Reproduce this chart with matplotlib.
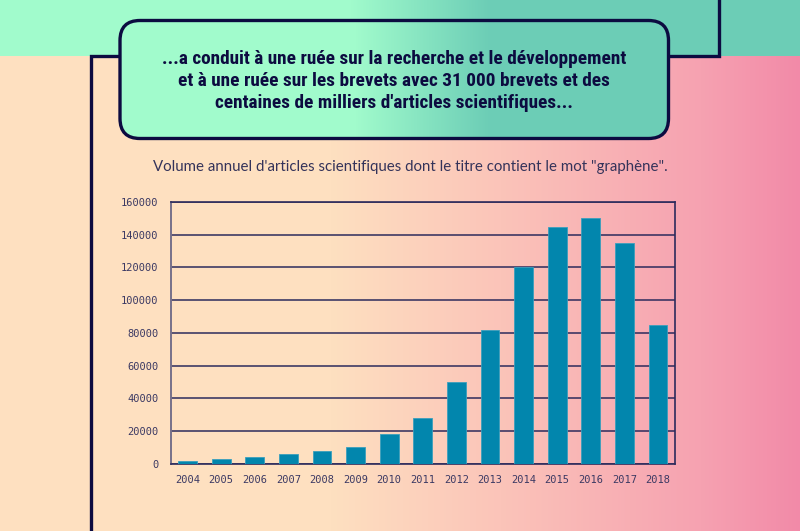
import numpy as np
import matplotlib
matplotlib.use("Agg")
import matplotlib.pyplot as plt
from matplotlib.patches import FancyBboxPatch
from matplotlib.colors import to_rgb

# data
years = ["2004", "2005", "2006", "2007", "2008", "2009", "2010", "2011",
         "2012", "2013", "2014", "2015", "2016", "2017", "2018"]
articles = [1500, 3000, 4000, 6000, 8000, 10000, 18000, 28000,
            50000, 82000, 120000, 145000, 150000, 135000, 85000]
y_ticks = [0, 20000, 40000, 60000, 80000, 100000, 120000, 140000, 160000]

box_lines = [
    "...a conduit à une ruée sur la recherche et le développement",
    "et à une ruée sur les brevets avec 31 000 brevets et des",
    "centaines de milliers d'articles scientifiques...",
]
chart_title = "Volume annuel d'articles scientifiques dont le titre contient le mot \"graphène\"."

NAVY = "#0c0b40"
BAR = "#0286ad"
W, H = 800, 531


def gradient_row(stops, width):
    xs = [s[0] for s in stops]
    cols = np.array([to_rgb(s[1]) for s in stops])
    x = np.arange(width)
    return np.stack([np.interp(x, xs, cols[:, k]) for k in range(3)], axis=1)


fig = plt.figure(figsize=(8, 5.31), dpi=100)

# background: mint band on top, peach -> pink below
bg = fig.add_axes([0, 0, 1, 1])
bg.axis("off")
top_row = gradient_row([(0, "#a1fbcc"), (350, "#a1fbcc"), (490, "#6ccdb6"), (800, "#6ccdb6")], W)
low_row = gradient_row([(0, "#fee0c0"), (330, "#fee0c0"), (500, "#fbc4b9"),
                        (700, "#f6a2b1"), (800, "#f28aa8")], W)
img = np.empty((H, W, 3))
img[:56] = top_row
img[56:] = low_row
bg.imshow(img, extent=(0, W, H, 0), aspect="auto", interpolation="bilinear")

# frame lines
bg.plot([91, 91, 718.5, 718.5], [H, 55.5, 55.5, 0], color=NAVY, lw=2.4,
        solid_joinstyle="miter")

# rounded quote box with its own gradient
box = FancyBboxPatch((120, 20.5), 548.5, 118, boxstyle="round,pad=0,rounding_size=20",
                     facecolor="none", edgecolor=NAVY, lw=2.4, zorder=4)
bg.add_patch(box)
box_img = np.tile(gradient_row([(0, "#a1fbcc"), (355, "#a1fbcc"), (490, "#6ccdb6"),
                                (800, "#6ccdb6")], W), (H, 1, 1))
im = bg.imshow(box_img, extent=(0, W, H, 0), aspect="auto", zorder=3)
clip = FancyBboxPatch((120, 20.5), 548.5, 118, boxstyle="round,pad=0,rounding_size=20",
                      transform=bg.transData)
im.set_clip_path(clip)
bg.set_xlim(0, W)
bg.set_ylim(H, 0)

for i, line in enumerate(box_lines):
    bg.text(394, 59 + i * 22, line, ha="center", va="center", fontsize=13.9,
            fontweight="bold", color=NAVY, zorder=5,
            family=["Roboto Condensed", "Liberation Sans Narrow", "DejaVu Sans"])

bg.text(410, 167, chart_title, ha="center", va="center", fontsize=10.8,
        color="#34335a", family=["Lato", "DejaVu Sans"])

# bar chart
ax = fig.add_axes([0.2134, 0.1267, 0.63, 0.4929])
ax.patch.set_alpha(0)
x = np.arange(len(years))
ax.bar(x, articles, width=0.56, color=BAR, edgecolor="#3a9fbd", linewidth=0.6, zorder=3)
ax.set_xlim(-0.5, len(years) - 0.5)
ax.set_ylim(0, 160000)
ax.set_yticks(y_ticks)
ax.set_yticklabels([str(v) for v in y_ticks])
ax.set_xticks(x)
ax.set_xticklabels(years)
ax.tick_params(length=0, labelsize=7.5, labelcolor="#3b3963")
ax.tick_params(axis="y", pad=9)
ax.tick_params(axis="x", pad=8)
for lab in ax.get_xticklabels() + ax.get_yticklabels():
    lab.set_family("DejaVu Sans Mono")
ax.grid(axis="y", color="#2d2b5c", lw=1.1, zorder=1)
for side in ["top", "right", "bottom"]:
    ax.spines[side].set_color("#2d2b5c")
    ax.spines[side].set_linewidth(1.2)
ax.spines["left"].set_color("#77708a")
ax.spines["left"].set_linewidth(1.4)

fig.savefig("out.png", dpi=100)
